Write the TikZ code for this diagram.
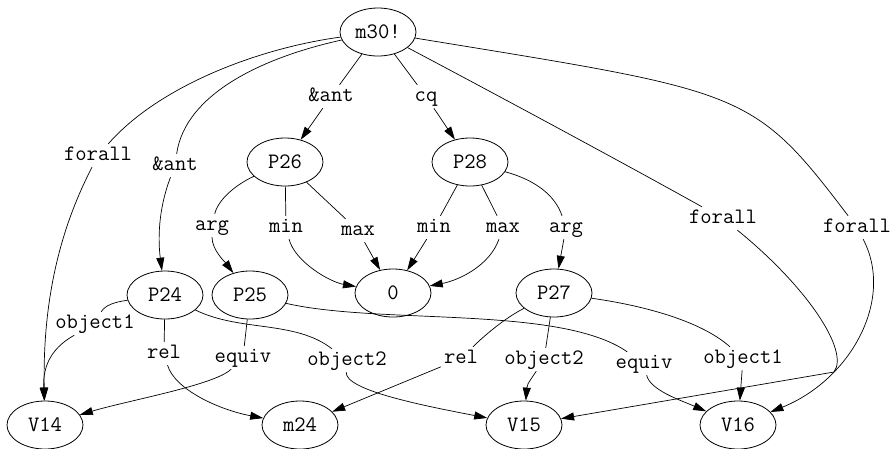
\documentclass[tikz,border=0pt]{standalone}
\usepackage{fontspec}
\usetikzlibrary{shapes.geometric,arrows.meta}
\begin{document}
\begin{tikzpicture}[x=1pt,y=-1pt,
  every node/.style={font=\fontsize{22}{24}\selectfont\ttfamily},
  vtx/.style={ellipse,draw,line width=0.8pt,minimum width=76pt,minimum height=48pt,inner sep=0pt},
  lbl/.style={inner sep=3pt,text height=13pt,text depth=4pt,anchor=base},
  edge/.style={line width=0.7pt},
  arr/.style={edge,-{Triangle[length=13pt,width=8pt]}}]
\path[use as bounding box,fill=white] (0,0) rectangle (893,448);

% vertices
\node[vtx] (m30) at (378,32) {m30!};
\node[vtx] (P26) at (285,162) {P26};
\node[vtx] (P28) at (470,162) {P28};
\node[vtx] (z0)  at (393,293) {0};
\node[vtx] (P24) at (165,295) {P24};
\node[vtx] (P25) at (250,295) {P25};
\node[vtx] (P27) at (554,293) {P27};
\node[vtx] (V14) at (45,425) {V14};
\node[vtx] (m24) at (300,425) {m24};
\node[vtx] (V15) at (524,425) {V15};
\node[vtx] (V16) at (738,425) {V16};

% edge labels
\node[lbl] (antA) at (331,101) {\&ant};
\node[lbl] (cq)   at (426,101) {cq};
\node[lbl] (faA)  at (98,160)  {forall};
\node[lbl] (antB) at (175,170) {\&ant};
\node[lbl] (argA) at (212,230) {arg};
\node[lbl] (minA) at (286,232) {min};
\node[lbl] (maxA) at (358,235) {max};
\node[lbl] (minB) at (434,232) {min};
\node[lbl] (maxB) at (503,232) {max};
\node[lbl] (argB) at (566,232) {arg};
\node[lbl] (faB)  at (723,223) {forall};
\node[lbl] (faC)  at (857,232) {forall};
\node[lbl] (obA)  at (95,328)  {object1};
\node[lbl] (relA) at (164,358) {rel};
\node[lbl] (eqA)  at (243,362) {equiv};
\node[lbl] (obB)  at (347,365) {object2};
\node[lbl] (relB) at (461,363) {rel};
\node[lbl] (obC)  at (544,364) {object2};
\node[lbl] (eqB)  at (644,368) {equiv};
\node[lbl] (obD)  at (743,363) {object1};

% edges out of m30!
\draw[edge] (m30) -- (antA);
\draw[arr]  (antA) -- (P26);
\draw[edge] (m30) -- (cq);
\draw[arr]  (cq) -- (P28);
\draw[edge] (m30) .. controls (260,48) and (160,85) .. (faA);
\draw[arr]  (faA) .. controls (70,210) and (42,280) .. (V14);
\draw[edge] (m30) .. controls (260,58) and (185,95) .. (antB);
\draw[arr]  (antB) .. controls (158,210) and (158,240) .. (P24);
\draw[edge] (m30) .. controls (450,70) and (600,150) .. (faB);
\draw[arr]  (faB) .. controls (805,285) and (850,350) .. (834,372) -- (V15);
\draw[edge] (m30) .. controls (745,92) and (752,89) .. (faC);
\draw[arr]  (faC) .. controls (895,300) and (850,380) .. (V16);

% edges out of P26 and P28
\draw[edge] (P26) .. controls (235,185) and (218,200) .. (argA);
\draw[arr]  (argA) .. controls (212,250) and (225,262) .. (P25);
\draw[edge] (P26) -- (minA);
\draw[arr]  (minA) .. controls (295,262) and (330,282) .. (z0);
\draw[edge] (P26) -- (maxA);
\draw[arr]  (maxA) -- (z0);
\draw[edge] (P28) -- (minB);
\draw[arr]  (minB) -- (z0);
\draw[edge] (P28) -- (maxB);
\draw[arr]  (maxB) .. controls (490,265) and (460,280) .. (z0);
\draw[edge] (P28) .. controls (535,180) and (555,195) .. (argB);
\draw[arr]  (argB) -- (P27);

% edges out of P24, P25 and P27
\draw[edge] (P24) .. controls (115,302) and (105,305) .. (obA);
\draw[arr]  (obA) .. controls (48,350) and (43,370) .. (V14);
\draw[edge] (P24) -- (relA);
\draw[arr]  (relA) .. controls (175,390) and (220,410) .. (m24);
\draw[edge] (P24) .. controls (240,332) and (295,320) .. (obB);
\draw[arr]  (obB) .. controls (345,390) and (420,405) .. (V15);
\draw[edge] (P25) -- (eqA);
\draw[arr]  (eqA) .. controls (215,385) and (130,400) .. (V14);
\draw[edge] (P25) .. controls (380,325) and (560,305) .. (eqB);
\draw[arr]  (eqB) .. controls (650,390) and (680,400) .. (V16);
\draw[edge] (P27) .. controls (505,318) and (485,335) .. (relB);
\draw[arr]  (relB) -- (m24);
\draw[edge] (P27) -- (obC);
\draw[arr]  (obC) .. controls (527,385) .. (V15);
\draw[edge] (P27) .. controls (640,305) and (700,320) .. (obD);
\draw[arr]  (obD) -- (V16);
\end{tikzpicture}
\end{document}
